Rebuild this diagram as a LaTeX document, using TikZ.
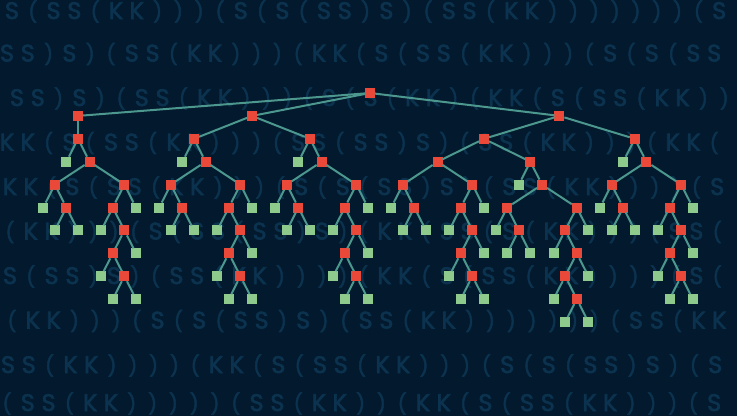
\documentclass[tikz,border=0pt]{standalone}
\usepackage{fontspec}
\newfontfamily\bgfont{Poppins}[AutoFakeBold=2.5]
\definecolor{bgc}{RGB}{3,25,45}
\definecolor{bgtext}{RGB}{11,50,78}
\definecolor{nred}{RGB}{234,72,56}
\definecolor{ngreen}{RGB}{142,202,140}
\definecolor{edgec}{RGB}{76,152,142}
\tikzset{
  rn/.style={rectangle, fill=nred, minimum size=10pt, inner sep=0pt, outer sep=0pt},
  ln/.style={rectangle, fill=ngreen, minimum size=10pt, inner sep=0pt, outer sep=0pt},
  ed/.style={draw=edgec, line width=2pt},
  bgch/.style={text=bgtext, font=\bgfont\bfseries\fontsize{24}{24}\selectfont, anchor=base, inner sep=0pt},
  bgpar/.style={text=bgtext, font=\bgfont\bfseries\fontsize{20}{20}\selectfont, anchor=center, inner sep=0pt}
}
\newcount\bgidx
\def\bgL{(}
\def\bgR{)}
\newcommand\bgrow[4]{\def\bgr{#1}\def\bgx{#2}\def\bgy{#3}\bgidx=0 \bgloop#4\relax}
\def\bgloop#1{\ifx#1\relax\else\bgchar{#1}\advance\bgidx by 1 \expandafter\bgloop\fi}
\def\bgchar#1{\def\bgtmp{#1}%
  \ifx\bgtmp\bgL
    \node[bgpar] (bg\bgr-\the\bgidx) at ({\bgx+20.8*\the\bgidx},{\bgy+1}) {(};%
  \else\ifx\bgtmp\bgR
    \node[bgpar] (bg\bgr-\the\bgidx) at ({\bgx+20.8*\the\bgidx},{\bgy+1}) {)};%
  \else
    \node[bgch] (bg\bgr-\the\bgidx) at ({\bgx+20.8*\the\bgidx},{\bgy+8.5}) {#1};%
  \fi\fi}
\newcommand\tnode[4]{\node[#1] (#2) at ({78+11.6*(#3)},{93+22.9*(#4)}) {};}
\newcommand\tedge[2]{\draw[ed] (#1) -- (#2);}
\newcommand\Usub[3]{%
  \tnode{rn}{#1}{#2}{#3}
  \tnode{rn}{#1l}{#2-3}{#3+1}
  \tnode{rn}{#1r}{#2+3}{#3+1}
  \tnode{ln}{#1la}{#2-4}{#3+2}
  \tnode{rn}{#1lb}{#2-2}{#3+2}
  \tnode{ln}{#1lba}{#2-3}{#3+3}
  \tnode{ln}{#1lbb}{#2-1}{#3+3}
  \tnode{rn}{#1ra}{#2+2}{#3+2}
  \tnode{ln}{#1rb}{#2+4}{#3+2}
  \tnode{ln}{#1raa}{#2+1}{#3+3}
  \tnode{rn}{#1rab}{#2+3}{#3+3}
  \tnode{rn}{#1rc}{#2+2}{#3+4}
  \tnode{ln}{#1rd}{#2+4}{#3+4}
  \tnode{ln}{#1rca}{#2+1}{#3+5}
  \tnode{rn}{#1rcb}{#2+3}{#3+5}
  \tnode{ln}{#1rcba}{#2+2}{#3+6}
  \tnode{ln}{#1rcbb}{#2+4}{#3+6}
  \tedge{#1}{#1l}\tedge{#1}{#1r}
  \tedge{#1l}{#1la}\tedge{#1l}{#1lb}
  \tedge{#1lb}{#1lba}\tedge{#1lb}{#1lbb}
  \tedge{#1r}{#1ra}\tedge{#1r}{#1rb}
  \tedge{#1ra}{#1raa}\tedge{#1ra}{#1rab}
  \tedge{#1rab}{#1rc}\tedge{#1rab}{#1rd}
  \tedge{#1rc}{#1rca}\tedge{#1rc}{#1rcb}
  \tedge{#1rcb}{#1rcba}\tedge{#1rcb}{#1rcbb}
}
\newcommand\Tsub[3]{%
  \tnode{rn}{#1}{#2}{#3}
  \tnode{ln}{#1g}{#2-1}{#3+1}
  \Usub{#1u}{#2+1}{#3+1}
  \tedge{#1}{#1g}\tedge{#1}{#1u}
}
\begin{document}
\begin{tikzpicture}[x=1pt,y=-1pt]
\fill[bgc] (0,0) rectangle (737,416);
\useasboundingbox (0,0) rectangle (737,416);
% background rows of combinator text
\bgrow{1}{12}{10.5}{S(SS(KK)))(S(S(SS)S)(SS(KK)))))))(S}
\bgrow{2}{7}{53}{SS)S)(SS(KK)))(KK(S(SS(KK)))(S(S(SS}
\bgrow{3}{17}{97.5}{SS)S)(SS(KK)))(S(S(KK)(KK(S(SS(KK))}
\bgrow{4}{7}{142}{KK(S(SS(KK)))(SS(SS)S)(SS(KK)))(KK(}
\bgrow{5}{10}{186.5}{KK(S(SS(KK)))(S(S(SS)S)(SS(KK))))(S}
\bgrow{6}{10}{231}{(KK)))(S(SS(SS)S)(KK(SS(S(KK)))(SS(}
\bgrow{7}{10}{275.5}{S(SS)S)(SS(KK))))(KK(S(SS(KK))))(S(}
\bgrow{8}{12}{320}{(KK)))(S(S(SS)S)(SS(KK)))))))(SS(KK}
\bgrow{9}{8}{364.5}{SS(KK))))(KK(S(SS(KK)))(S(S(SS)S)(S}
\bgrow{10}{7}{402.5}{(SS(KK)))))(SS(KK))(KK(S(SS(KK)))(S}
% tree
\tnode{rn}{root}{25.17}{0}
\tnode{rn}{a0}{0}{1}
\tnode{rn}{b0}{15}{1}
\tnode{rn}{c0}{41.5}{1}
\tedge{root}{a0}\tedge{root}{b0}\tedge{root}{c0}
\Tsub{A}{0}{2}\tedge{a0}{A}
\Tsub{B}{10}{2}\Tsub{C}{20}{2}
\tedge{b0}{B}\tedge{b0}{C}
\tnode{rn}{d}{35}{2}
\Tsub{D}{48}{2}
\tedge{c0}{d}\tedge{c0}{D}
\Usub{E}{31}{3}
\tnode{rn}{e}{39}{3}
\tedge{d}{E}\tedge{d}{e}
\tnode{ln}{eg}{38}{4}
\tnode{rn}{f}{40}{4}
\tedge{e}{eg}\tedge{e}{f}
\tnode{rn}{fa}{37}{5}
\tnode{rn}{fb}{43}{5}
\tedge{f}{fa}\tedge{f}{fb}
\tnode{ln}{fag}{36}{6}
\tnode{rn}{fc}{38}{6}
\tedge{fa}{fag}\tedge{fa}{fc}
\tnode{ln}{fca}{37}{7}
\tnode{ln}{fcb}{39}{7}
\tedge{fc}{fca}\tedge{fc}{fcb}
\tnode{rn}{fd}{42}{6}
\tnode{ln}{fbg}{44}{6}
\tedge{fb}{fd}\tedge{fb}{fbg}
\tnode{ln}{fdg}{41}{7}
\tnode{rn}{fe}{43}{7}
\tedge{fd}{fdg}\tedge{fd}{fe}
\tnode{rn}{ff}{42}{8}
\tnode{ln}{feg}{44}{8}
\tedge{fe}{ff}\tedge{fe}{feg}
\tnode{ln}{ffg}{41}{9}
\tnode{rn}{fh}{43}{9}
\tedge{ff}{ffg}\tedge{ff}{fh}
\tnode{ln}{fha}{42}{10}
\tnode{ln}{fhb}{44}{10}
\tedge{fh}{fha}\tedge{fh}{fhb}
\end{tikzpicture}
\end{document}
